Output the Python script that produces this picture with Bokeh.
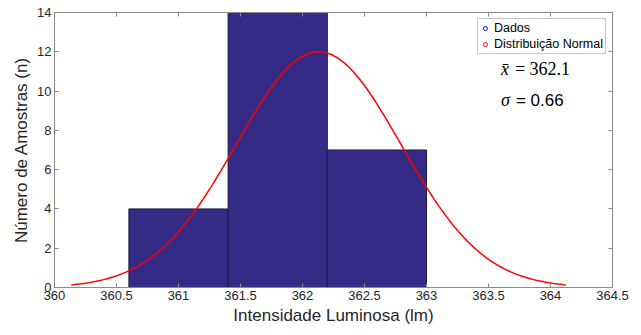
import numpy as np
from bokeh.plotting import figure
from bokeh.models import LinearAxis, Range1d, FixedTicker, Label, Legend, LegendItem
from bokeh.core.properties import value
from bokeh.embed import file_html
from bokeh.resources import INLINE

# Histogram data
bin_left = [360.6, 361.4, 362.2]
bin_right = [361.4, 362.2, 363.0]
counts = [4, 14, 7]

# Fitted normal distribution parameters
mean_val = 362.13
sigma_val = 0.665
n_samples = 25
bin_width = 0.8

x_ticks = [360, 360.5, 361, 361.5, 362, 362.5, 363, 363.5, 364, 364.5]
y_ticks = [0, 2, 4, 6, 8, 10, 12, 14]

xs = np.linspace(mean_val - 3 * sigma_val, mean_val + 3 * sigma_val, 200)
ys = n_samples * bin_width * np.exp(-0.5 * ((xs - mean_val) / sigma_val) ** 2) / (sigma_val * np.sqrt(2 * np.pi))

axis_col = "#8a8a8a"
text_col = "#262626"

p = figure(width=633, height=327, output_backend="svg", toolbar_location=None,
           x_range=Range1d(360, 364.5), y_range=Range1d(0, 14),
           min_border_left=54, min_border_right=21, min_border_top=12, min_border_bottom=37)
p.grid.visible = False
p.outline_line_color = axis_col
p.outline_line_width = 1

p.quad(left=bin_left, right=bin_right, bottom=0, top=counts,
       fill_color="#352b86", line_color="#1a1a40", line_width=1)
p.line(xs, ys, line_color="#ff0000", line_width=1.5)

for ax in [p.xaxis[0], p.yaxis[0]]:
    ax.axis_line_color = axis_col
    ax.major_tick_line_color = axis_col
    ax.major_tick_in = 4
    ax.major_tick_out = 0
    ax.minor_tick_line_color = None
    ax.major_label_text_font = "Liberation Sans"
    ax.major_label_text_font_size = "13px"
    ax.major_label_text_color = text_col
    ax.axis_label_text_font = "Liberation Sans"
    ax.axis_label_text_font_size = "17px"
    ax.axis_label_text_font_style = "normal"
    ax.axis_label_text_color = text_col
    ax.major_label_standoff = 3
    ax.axis_label_standoff = 3

p.xaxis[0].ticker = FixedTicker(ticks=x_ticks)
p.xaxis[0].major_label_overrides = {v: ("%g" % v) for v in x_ticks}
p.yaxis[0].ticker = FixedTicker(ticks=y_ticks)
p.xaxis[0].axis_label = "Intensidade Luminosa (lm)"
p.yaxis[0].axis_label = "Número de Amostras (n)"

for loc in ["above", "right"]:
    tk = x_ticks if loc == "above" else y_ticks
    a = LinearAxis(ticker=FixedTicker(ticks=tk))
    a.axis_line_color = axis_col
    a.major_tick_line_color = axis_col
    a.major_tick_in = 4
    a.major_tick_out = 0
    a.minor_tick_line_color = None
    a.major_label_overrides = {t: "" for t in tk}
    a.major_label_standoff = 0
    p.add_layout(a, loc)

# Legend with small circle markers
r1 = p.scatter([np.nan], [np.nan], marker="circle", size=5, fill_color=None, line_color="#0000ff")
r2 = p.scatter([np.nan], [np.nan], marker="circle", size=5, fill_color=None, line_color="#ff0000")
legend = Legend(items=[LegendItem(label=value("Dados"), renderers=[r1]),
                       LegendItem(label=value("Distribuição Normal"), renderers=[r2])],
                location="top_right", label_text_font="Liberation Sans",
                label_text_font_size="12.5px", label_text_color="#000000",
                glyph_width=10, glyph_height=10, label_height=12, spacing=2,
                padding=2, margin=6, label_standoff=4,
                border_line_color="#8a8a8a", background_fill_color="white")
p.add_layout(legend)

# Annotations
p.add_layout(Label(x=363.6, y=10.62, text="x̄", text_font="Liberation Serif",
                   text_font_style="italic", text_font_size="18px", text_color="#000000"))
p.add_layout(Label(x=363.6, y=10.62, x_offset=14, text="= 362.1", text_font="Liberation Serif",
                   text_font_size="18px", text_color="#000000"))
p.add_layout(Label(x=363.6, y=9.06, text="σ", text_font="Liberation Serif",
                   text_font_style="italic", text_font_size="18px", text_color="#000000"))
p.add_layout(Label(x=363.6, y=9.06, x_offset=15, text="= 0.66", text_font="Liberation Sans",
                   text_font_size="17px", text_color="#000000"))

open("out.html", "w").write(file_html(p, INLINE))
